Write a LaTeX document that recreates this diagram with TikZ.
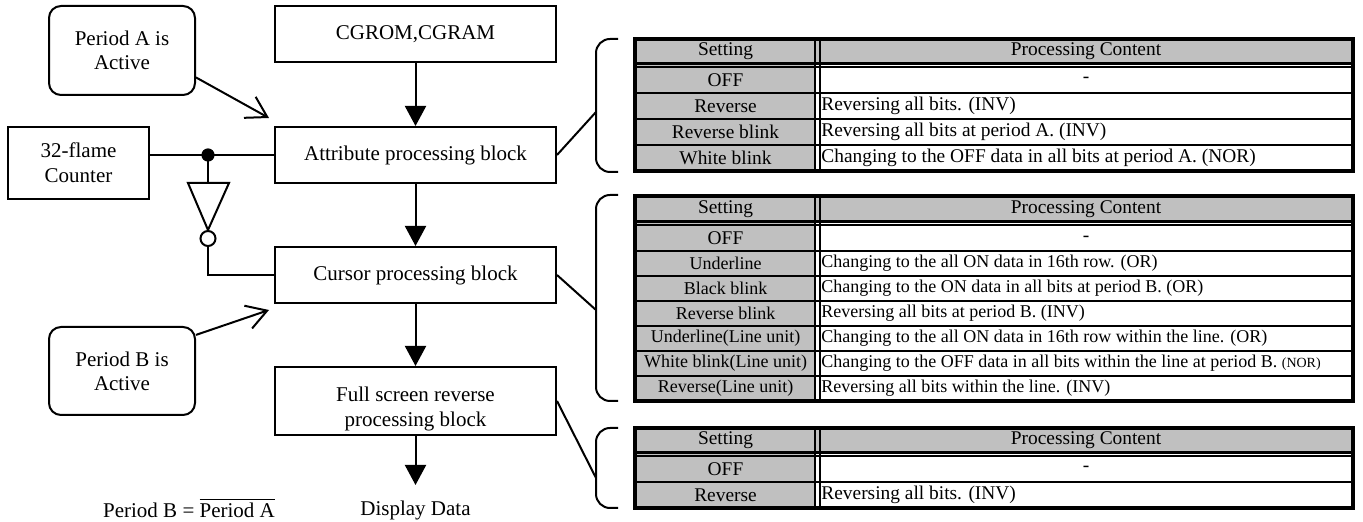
\documentclass[tikz,border=0pt]{standalone}
\usepackage{fontspec}
\setmainfont{Liberation Serif}
\usetikzlibrary{arrows.meta}

\definecolor{cellgray}{RGB}{192,192,192}

\tikzset{
    block/.style={draw, line width=1pt, minimum width=140.5pt, minimum height=28pt,
        inner sep=0pt, align=center, font=\fontsize{10.5}{12.5}\selectfont},
    note/.style={draw, line width=1pt, rounded corners=6pt, minimum width=73pt,
        minimum height=44.5pt, inner sep=0pt, align=center, font=\fontsize{10.5}{12}\selectfont},
    txt/.style={inner sep=0pt, font=\fontsize{10.5}{12.5}\selectfont},
    flow/.style={-{Triangle[length=10pt,width=10.5pt]}, line width=1pt},
    hint/.style={-{Straight Barb[length=10pt,width=12pt]}, line width=1pt},
    wire/.style={line width=1pt},
    bracket/.style={line width=1pt, rounded corners=7pt},
    cell/.style={inner sep=0pt, font=\fontsize{9.7}{11}\selectfont},
    smallcell/.style={inner sep=0pt, font=\fontsize{9}{11}\selectfont},
    rowline/.style={line width=1pt},
    headline/.style={line width=1.5pt},
    frame/.style={line width=1.8pt},
}

\begin{document}
\begin{tikzpicture}[x=0.5pt,y=-0.5pt]
    \useasboundingbox (0,0) rectangle (1363,522);

    % Blocks
    \node[block] (cgrom) at (415.5,34)  {CGROM,CGRAM};
    \node[block] (attr)  at (415.5,155) {Attribute processing block};
    \node[block] (cur)   at (415.5,275) {Cursor processing block};
    \node[block, minimum height=34pt] (full) at (415.5,401) {\rule{0pt}{15pt}Full screen reverse\\processing block};
    \node[txt] (disp) at (415.5,510) {Display Data};
    \coordinate (out) at (415.5,485);

    \draw[flow] (cgrom) -- (attr);
    \draw[flow] (attr) -- (cur);
    \draw[flow] (cur) -- (full);
    \draw[flow] (full) -- (out);

    % Periods
    \node[note] (pa) at (122,50.5) {Period A is\\Active};
    \node[note, minimum height=44pt] (pb) at (122,371) {Period B is\\Active};
    \coordinate (pa-end) at (269,118);
    \coordinate (pb-end) at (269,310);
    \draw[hint] (pa.-20) -- (pa-end);
    \draw[hint] (pb.26) -- (pb-end);
    \node[txt] (eq) at (189,508) {Period B = $\overline{\mbox{Period A}}$};

    % Counter and inverter
    \node[block, minimum width=70.5pt, minimum height=36pt] (cnt) at (78.5,163) {32-flame\\Counter};
    \coordinate (dot) at (208,155);
    \coordinate (inv-top) at (208,183);
    \coordinate (inv-tip) at (208,230);
    \draw[wire] (attr.west -| cnt.east) -- (attr.west);
    \fill (dot) circle (3.3pt);
    \draw[wire] (dot) -- (inv-top);
    \draw[wire, line join=miter] (188,183) -- (229,183) -- (inv-tip) -- cycle;
    \node[draw, circle, line width=1pt, minimum size=7.5pt, inner sep=0pt, anchor=north] (bub) at (inv-tip) {};
    \draw[wire] (bub.south) |- (cur.west);

    % Table 1: attribute
    \fill[cellgray] (635,39) rectangle (816,171);
    \fill[cellgray] (816,39) rectangle (1353,64);
    \foreach \y in {93,119,145}
        \draw[rowline] (635,\y) -- (1353,\y);
    \draw[headline] (635,64) -- (1353,64);
    \draw[rowline] (635,67.5) -- (1353,67.5);
    \draw[rowline] (815,39) -- (815,171);
    \draw[rowline] (819.5,39) -- (819.5,171);
    \draw[frame] (635,39) rectangle (1353,171);
    \node[cell] (a-set0) at (725.5,51.5) {Setting};
    \node[cell] (a-txt0) at (1086,51.5) {Processing Content};
    \node[cell] (a-set1) at (725.5,80) {OFF};
    \node[cell] (a-txt1) at (1086,80) {-};
    \foreach \set/\txt [count=\i from 2] in {
        Reverse/{Reversing all bits. (INV)},
        Reverse blink/{Reversing all bits at period A. (INV)},
        White blink/{Changing to the OFF data in all bits at period A. (NOR)}} {
        \node[cell] (a-set\i) at (725.5,54+26*\i) {\set};
        \node[cell, anchor=west] (a-txt\i) at (821,54+26*\i) {\txt};
    }

    % Table 2: cursor
    \fill[cellgray] (635,196) rectangle (816,401);
    \fill[cellgray] (816,196) rectangle (1353,222);
    \foreach \y in {251,276,301,326,351,376}
        \draw[rowline] (635,\y) -- (1353,\y);
    \draw[headline] (635,222) -- (1353,222);
    \draw[rowline] (635,225.5) -- (1353,225.5);
    \draw[rowline] (815,196) -- (815,401);
    \draw[rowline] (819.5,196) -- (819.5,401);
    \draw[frame] (635,196) rectangle (1353,401);
    \node[cell] (c-set0) at (725.5,209) {Setting};
    \node[cell] (c-txt0) at (1086,209) {Processing Content};
    \node[cell] (c-set1) at (725.5,238.5) {OFF};
    \node[cell] (c-txt1) at (1086,238.5) {-};
    \foreach \set/\txt [count=\i from 2] in {
        Underline/{Changing to the all ON data in 16th row. (OR)},
        Black blink/{Changing to the ON data in all bits at period B. (OR)},
        Reverse blink/{Reversing all bits at period B. (INV)},
        Underline(Line unit)/{Changing to the all ON data in 16th row within the line. (OR)},
        White blink(Line unit)/{Changing to the OFF data in all bits within the line at period B. {\fontsize{7}{9}\selectfont(NOR)}},
        Reverse(Line unit)/{Reversing all bits within the line. (INV)}} {
        \node[smallcell] (c-set\i) at (725.5,213.5+25*\i) {\set};
        \node[smallcell, anchor=west] (c-txt\i) at (821,213.5+25*\i) {\txt};
    }

    % Table 3: full screen
    \fill[cellgray] (635,428) rectangle (816,508);
    \fill[cellgray] (816,428) rectangle (1353,453);
    \draw[rowline] (635,482) -- (1353,482);
    \draw[headline] (635,453) -- (1353,453);
    \draw[rowline] (635,456.5) -- (1353,456.5);
    \draw[rowline] (815,428) -- (815,508);
    \draw[rowline] (819.5,428) -- (819.5,508);
    \draw[frame] (635,428) rectangle (1353,508);
    \node[cell] (f-set0) at (725.5,440.5) {Setting};
    \node[cell] (f-txt0) at (1086,440.5) {Processing Content};
    \node[cell] (f-set1) at (725.5,469) {OFF};
    \node[cell] (f-txt1) at (1086,469) {-};
    \node[cell] (f-set2) at (725.5,495) {Reverse};
    \node[cell, anchor=west] (f-txt2) at (821,495) {Reversing all bits. (INV)};

    % Brackets
    \draw[bracket] (618,39) -- (596,39) -- (596,172) -- (618,172);
    \draw[bracket] (618,195) -- (596,195) -- (596,401) -- (618,401);
    \draw[bracket] (618,428) -- (596,428) -- (596,508) -- (618,508);
    \coordinate (a-brace) at (596,112);
    \coordinate (c-brace) at (596,310);
    \coordinate (f-brace) at (596,478);
    \draw[wire] (attr.east) -- (a-brace);
    \draw[wire] (cur.east) -- (c-brace);
    \draw[wire] (full.east) -- (f-brace);
\end{tikzpicture}
\end{document}
